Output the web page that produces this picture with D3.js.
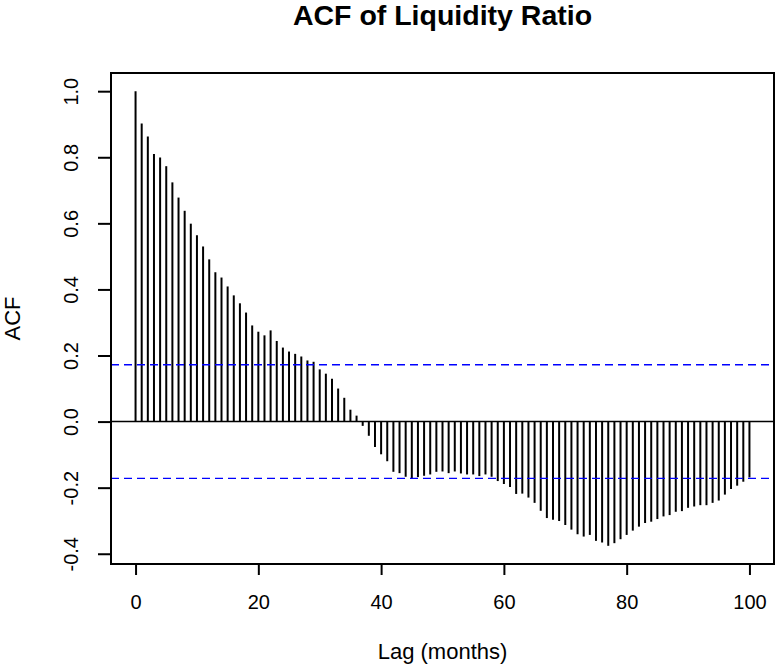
<!DOCTYPE html>
<html lang="en">
<head>
<meta charset="utf-8">
<title>ACF of Liquidity Ratio</title>
<script src="https://d3js.org/d3.v7.min.js"></script>
<style>
body { margin: 0; background: #fff; }
text { font-family: "Liberation Sans", Arial, sans-serif; fill: #000; }
</style>
</head>
<body>
<svg id="chart" width="781" height="667"></svg>
<script>
// acf values for lags 0..100
var lags = d3.range(0, 101);
var acf = [
  1.000, 0.902, 0.863, 0.810, 0.799, 0.773, 0.724, 0.678, 0.638, 0.599,
  0.564, 0.530, 0.491, 0.452, 0.436, 0.409, 0.382, 0.358, 0.330, 0.291,
  0.272, 0.261, 0.276, 0.244, 0.224, 0.212, 0.205, 0.197, 0.185, 0.181,
  0.158, 0.145, 0.130, 0.100, 0.072, 0.036, 0.018, -0.013, -0.043, -0.077,
  -0.099, -0.120, -0.152, -0.156, -0.167, -0.171, -0.168, -0.164, -0.160, -0.152,
  -0.151, -0.156, -0.151, -0.157, -0.160, -0.160, -0.165, -0.160, -0.167, -0.180,
  -0.189, -0.198, -0.219, -0.218, -0.230, -0.246, -0.270, -0.292, -0.297, -0.301,
  -0.313, -0.327, -0.341, -0.348, -0.343, -0.361, -0.366, -0.376, -0.368, -0.356,
  -0.343, -0.330, -0.318, -0.307, -0.303, -0.295, -0.287, -0.283, -0.273, -0.271,
  -0.261, -0.257, -0.253, -0.253, -0.246, -0.239, -0.221, -0.204, -0.194, -0.182,
  -0.169
];
var ciLimit = 0.172;
var xTicks = [0, 20, 40, 60, 80, 100];
var yTicks = [-0.4, -0.2, 0.0, 0.2, 0.4, 0.6, 0.8, 1.0];

var svg = d3.select("#chart");
var box = {left: 111, right: 774, top: 73, bottom: 564};

// R pads the data range by 4% on each side
var x = d3.scaleLinear().domain([-4, 104]).range([box.left, box.right]);
var yMin = d3.min(acf), yMax = d3.max(acf), pad = (yMax - yMin) * 0.04;
var y = d3.scaleLinear().domain([yMin - pad, yMax + pad]).range([box.bottom, box.top]);

// spikes
svg.append("g").selectAll("line")
    .data(lags)
    .enter().append("line")
    .attr("x1", function(d) { return x(d); })
    .attr("x2", function(d) { return x(d); })
    .attr("y1", y(0))
    .attr("y2", function(d) { return y(acf[d]); })
    .attr("stroke", "#000")
    .attr("stroke-width", 2);

// zero line
svg.append("line")
    .attr("x1", box.left).attr("x2", box.right)
    .attr("y1", y(0)).attr("y2", y(0))
    .attr("stroke", "#000").attr("stroke-width", 1.5);

// confidence bounds
svg.append("g").selectAll("line")
    .data([ciLimit, -ciLimit])
    .enter().append("line")
    .attr("x1", box.left).attr("x2", box.right)
    .attr("y1", function(d) { return y(d); })
    .attr("y2", function(d) { return y(d); })
    .attr("stroke", "#0000ff")
    .attr("stroke-width", 1.3)
    .attr("stroke-dasharray", "8,5");

// axes
var xAxis = svg.append("g")
    .attr("transform", "translate(0," + box.bottom + ")")
    .call(d3.axisBottom(x).tickValues(xTicks).tickSize(11).tickSizeOuter(0).tickFormat(d3.format("d")));
xAxis.select(".domain").remove();
xAxis.selectAll(".tick line").attr("stroke-width", 2);
xAxis.selectAll(".tick text")
    .attr("y", 0).attr("dy", 0)
    .attr("transform", "translate(0,45)")
    .style("font-size", "20px")
    .style("font-family", "Liberation Sans, Arial, sans-serif");

var yAxis = svg.append("g")
    .attr("transform", "translate(" + box.left + ",0)")
    .call(d3.axisLeft(y).tickValues(yTicks).tickSize(13).tickSizeOuter(0).tickFormat(d3.format(".1f")));
yAxis.select(".domain").remove();
yAxis.selectAll(".tick line").attr("stroke-width", 2);
yAxis.selectAll(".tick text")
    .attr("x", 0).attr("dy", 0)
    .attr("text-anchor", "middle")
    .attr("transform", "translate(-33,0) rotate(-90)")
    .style("font-size", "20px")
    .style("font-family", "Liberation Sans, Arial, sans-serif")
    .text(function(d) { return d3.format(".1f")(d).replace("−", "-"); });

// plot frame
svg.append("rect")
    .attr("x", box.left).attr("y", box.top)
    .attr("width", box.right - box.left).attr("height", box.bottom - box.top)
    .attr("fill", "none").attr("stroke", "#000").attr("stroke-width", 2);

// titles
svg.append("text")
    .attr("x", (box.left + box.right) / 2).attr("y", 25)
    .attr("text-anchor", "middle")
    .style("font-size", "28.5px").style("font-weight", "bold")
    .text("ACF of Liquidity Ratio");

svg.append("text")
    .attr("x", (box.left + box.right) / 2).attr("y", 659)
    .attr("text-anchor", "middle")
    .style("font-size", "22px")
    .text("Lag (months)");

svg.append("text")
    .attr("transform", "translate(20," + (box.top + box.bottom) / 2 + ") rotate(-90)")
    .attr("text-anchor", "middle")
    .style("font-size", "22px")
    .text("ACF");
</script>
</body>
</html>
